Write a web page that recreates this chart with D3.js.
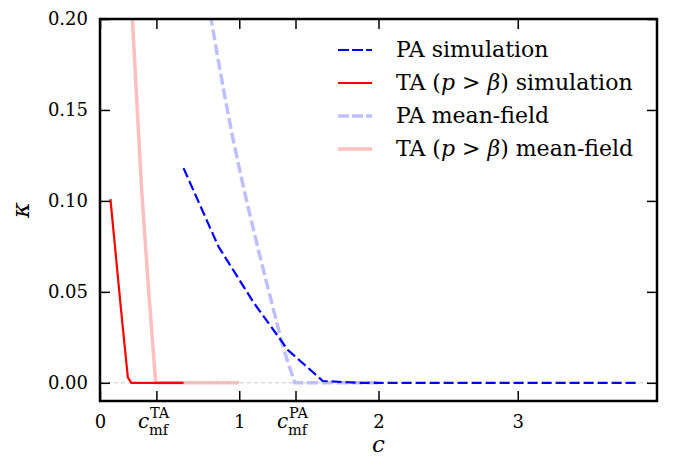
<!DOCTYPE html>
<html><head><meta charset="utf-8">
<script src="https://cdn.jsdelivr.net/npm/d3@7"></script>
<style>body{margin:0;background:#fff}</style>
</head><body>
<svg id="chart" width="674" height="459"></svg>
<script>
// ---- data ----
const cSimPA = [0.6, 0.85, 1.1, 1.35, 1.6, 1.85, 2.1, 2.35, 2.6, 2.85, 3.1, 3.35, 3.6, 3.85];
const kSimPA = [0.118, 0.075, 0.0445, 0.018, 0.001, 0, 0, 0, 0, 0, 0, 0, 0, 0];

const cSimTA = [0.075, 0.1, 0.125, 0.15, 0.175, 0.2, 0.225, 0.3, 0.4, 0.5, 0.6];
const kSimTA = [0.101, 0.081, 0.061, 0.041, 0.022, 0.003, 0, 0, 0, 0, 0];

const cMfPA = [0.7, 0.75, 0.8, 0.85, 0.9, 0.95, 1.0, 1.05, 1.1, 1.15, 1.2, 1.25, 1.3, 1.35, 1.4, 1.6, 1.8, 2.0];
const kMfPA = [0.243, 0.221, 0.199, 0.177, 0.156, 0.136, 0.118, 0.101, 0.085, 0.069, 0.054, 0.039, 0.024, 0.011, 0, 0, 0, 0];

const cMfTA = [0.2, 0.25, 0.3, 0.35, 0.4, 0.6, 0.8, 1.0];
const kMfTA = [0.246, 0.175, 0.105, 0.050, 0, 0, 0, 0];

const cmfTA = 0.405, cmfPA = 1.404;
const xTicks = [0, cmfTA, 1, cmfPA, 2, 3];
const xTickLabels = ["0", ["TA"], "1", ["PA"], "2", "3"];
const yTicks = [0, 0.05, 0.10, 0.15, 0.20];
const yTickLabels = ["0.00", "0.05", "0.10", "0.15", "0.20"];
const legendLabels = ["PA simulation", "TA (p > β) simulation", "PA mean-field", "TA (p > β) mean-field"];

// ---- chart ----
const svg = d3.select("#chart");
const L = 100, R = 657, T = 19, B = 401;
const x = d3.scaleLinear().domain([0, 4]).range([L, R]);
const y = d3.scaleLinear().domain([-0.01, 0.2]).range([B, T]);
const serif = "'DejaVu Serif', serif";

svg.append("defs").append("clipPath").attr("id", "clip")
  .append("rect").attr("x", L).attr("y", T).attr("width", R - L).attr("height", B - T);

const plot = svg.append("g").attr("clip-path", "url(#clip)");
const line = d3.line().x(d => x(d[0])).y(d => y(d[1]));
const zip = (a, b) => a.map((v, i) => [v, b[i]]);

const series = [
  {c: cMfPA, k: kMfPA, color: "#bfbfff", w: 3.5, dash: "11,4"},
  {c: cMfTA, k: kMfTA, color: "#ffbfbf", w: 3.5, dash: null},
];
series.forEach(s => {
  plot.append("path").datum(zip(s.c, s.k)).attr("d", line)
    .attr("fill", "none").attr("stroke", s.color).attr("stroke-width", s.w)
    .attr("stroke-dasharray", s.dash).attr("stroke-linejoin", "round");
});
// zero reference line
plot.append("path").datum([[0, 0], [4, 0]]).attr("d", line)
  .attr("fill", "none").attr("stroke", "#c8c8c8").attr("stroke-width", 1)
  .attr("stroke-dasharray", "4,3");

const simSeries = [
  {c: cSimPA, k: kSimPA, color: "#0000ff", w: 2.2, dash: "10,4"},
  {c: cSimTA, k: kSimTA, color: "#ff0000", w: 2.2, dash: null},
];
simSeries.forEach(s => {
  plot.append("path").datum(zip(s.c, s.k)).attr("d", line)
    .attr("fill", "none").attr("stroke", s.color).attr("stroke-width", s.w)
    .attr("stroke-dasharray", s.dash).attr("stroke-linejoin", "round");
});

// axes (inward ticks on all four sides)
const tickLen = 10;
function styleAxis(g) {
  g.attr("font-family", serif).attr("font-size", 18);
  g.select(".domain").remove();
  g.selectAll(".tick line").attr("stroke", "#000").attr("stroke-width", 1.5);
  g.selectAll(".tick text").attr("font-family", serif).attr("font-size", 18).attr("fill", "#000");
  g.selectAll(".tick text").filter(function () { return this.textContent === ""; }).remove();
}
const xb = svg.append("g").attr("transform", `translate(0,${B})`)
  .call(d3.axisBottom(x).tickValues(xTicks).tickSizeInner(-tickLen).tickSizeOuter(0).tickPadding(13)
    .tickFormat((d, i) => typeof xTickLabels[i] === "string" ? xTickLabels[i] : ""));
styleAxis(xb);
xb.selectAll(".tick text").attr("dy", "0.71em").attr("y", 14);
svg.append("g").attr("transform", `translate(0,${T})`)
  .call(d3.axisTop(x).tickValues(xTicks).tickSizeInner(-tickLen).tickSizeOuter(0).tickFormat(""))
  .call(styleAxis);
svg.append("g").attr("transform", `translate(${L},0)`)
  .call(d3.axisLeft(y).tickValues(yTicks).tickSizeInner(-tickLen).tickSizeOuter(0).tickPadding(12)
    .tickFormat((d, i) => yTickLabels[i]))
  .call(styleAxis);
svg.append("g").attr("transform", `translate(${R},0)`)
  .call(d3.axisRight(y).tickValues(yTicks).tickSizeInner(-tickLen).tickSizeOuter(0).tickFormat(""))
  .call(styleAxis);

// special c_mf tick labels (one text element, with super/subscript tspans)
xTicks.forEach((v, i) => {
  const lab = xTickLabels[i];
  if (typeof lab === "string") return;
  const cx = x(v);
  const t = svg.append("text").attr("font-family", serif).attr("fill", "#000")
    .attr("x", cx - 18.5).attr("y", 428);
  t.append("tspan").attr("font-size", 20).attr("font-style", "italic").text("c");
  t.append("tspan").attr("x", cx - 6.5).attr("y", 418).attr("font-size", 14.5).text(lab[0]);
  t.append("tspan").attr("x", cx - 7.5).attr("y", 435).attr("font-size", 14.5).text("mf");
});

// frame
svg.append("rect").attr("x", L).attr("y", T).attr("width", R - L).attr("height", B - T)
  .attr("fill", "none").attr("stroke", "#000").attr("stroke-width", 2.5);

// axis labels
svg.append("text").attr("x", (L + R) / 2).attr("y", 452).attr("text-anchor", "middle")
  .attr("font-family", serif).attr("font-size", 23).attr("font-style", "italic").text("c");
svg.append("text").attr("transform", "translate(29,210) rotate(-90)").attr("text-anchor", "middle")
  .attr("font-family", serif).attr("font-size", 24).attr("font-style", "italic").text("κ");

// legend
const legendStyles = [
  {color: "#0000ff", w: 2.2, dash: "11,3"},
  {color: "#ff0000", w: 2.2, dash: null},
  {color: "#bfbfff", w: 3.5, dash: "11,3"},
  {color: "#ffbfbf", w: 3.5, dash: null},
];
const lg = svg.append("g");
legendLabels.forEach((t, i) => {
  const yy = 50 + i * 33;
  const st = legendStyles[i];
  lg.append("line").attr("x1", 338).attr("x2", 372).attr("y1", yy).attr("y2", yy)
    .attr("stroke", st.color).attr("stroke-width", st.w).attr("stroke-dasharray", st.dash);
  const tx = lg.append("text").attr("x", 396).attr("y", yy + 7)
    .attr("font-family", serif).attr("font-size", 22).attr("fill", "#000");
  if (t.includes("(p > β)")) {
    const rest = t.split("(p > β)")[1];
    tx.append("tspan").text("TA (");
    tx.append("tspan").attr("font-style", "italic").text("p");
    tx.append("tspan").text(" > ");
    tx.append("tspan").attr("font-style", "italic").text("β");
    tx.append("tspan").text(")" + rest);
  } else {
    tx.text(t);
  }
});
</script>
</body></html>
